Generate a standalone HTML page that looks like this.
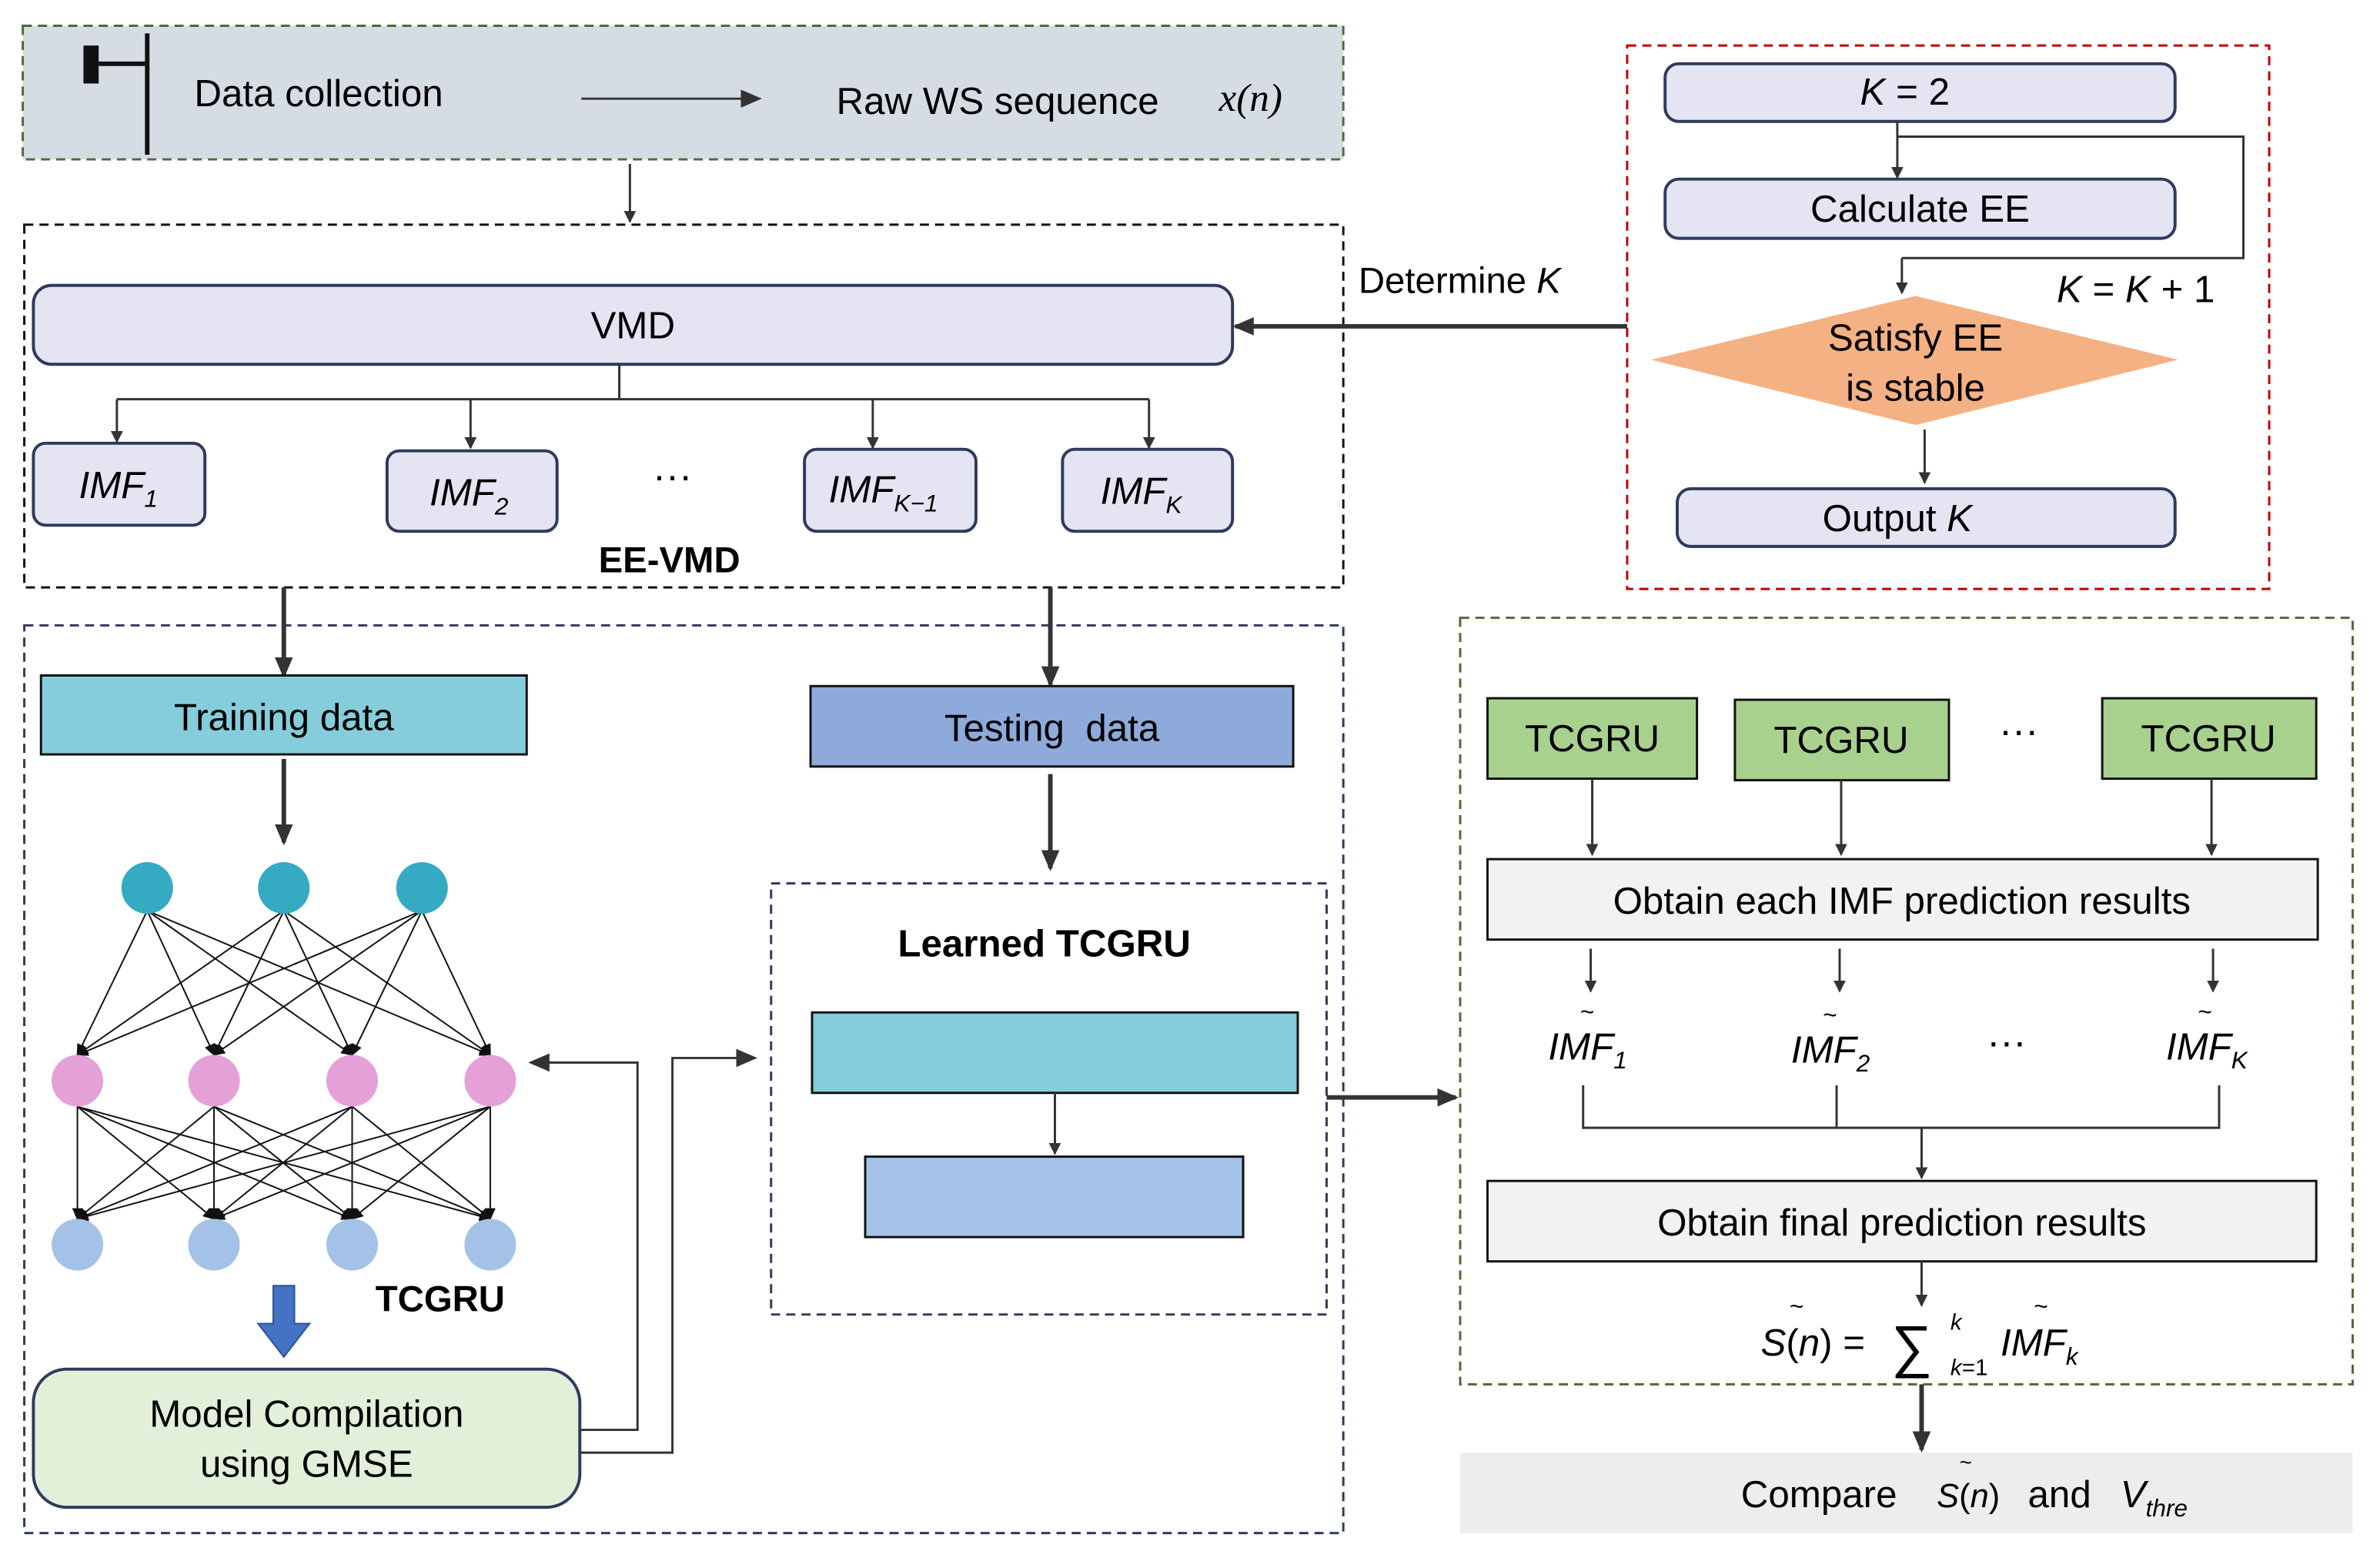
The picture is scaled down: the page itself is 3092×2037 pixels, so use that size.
<!DOCTYPE html>
<html><head><meta charset="utf-8"><style>
html,body{margin:0;padding:0;background:#fff;}
svg{display:block;}
text{font-family:"Liberation Sans",sans-serif;fill:#000;}
.it{font-style:italic;}
.sf{font-family:"Liberation Serif",serif;font-style:italic;}
</style></head><body>
<svg width="3092" height="2037" viewBox="0 0 1568 1033" preserveAspectRatio="none" xmlns="http://www.w3.org/2000/svg">
<defs>
<marker id="a" markerWidth="8" markerHeight="8" refX="7" refY="4" orient="auto" markerUnits="userSpaceOnUse" viewBox="0 0 8 8"><path d="M0,0 L8,4 L0,8 z" fill="#333"/></marker>
<marker id="b" markerWidth="14" markerHeight="12" refX="12" refY="6" orient="auto" markerUnits="userSpaceOnUse" viewBox="0 0 14 12"><path d="M0,0 L14,6 L0,12 z" fill="#333"/></marker>
<marker id="s" markerWidth="8" markerHeight="7" refX="7" refY="3.5" orient="auto" markerUnits="userSpaceOnUse" viewBox="0 0 8 7"><path d="M0,0 L8,3.5 L0,7 z" fill="#111"/></marker>
</defs>
<rect width="1568" height="1033" fill="#fff"/>

<rect x="15" y="17" width="870" height="88" fill="#d6dce4" stroke="#4e6b35" stroke-width="1.5" stroke-dasharray="6,4"/>
<line x1="97" y1="22" x2="97" y2="102" stroke="#111" stroke-width="3"/>
<rect x="55" y="30" width="10" height="25" fill="#111"/>
<line x1="65" y1="42" x2="97" y2="42" stroke="#111" stroke-width="3"/>
<text x="128" y="70" font-size="25">Data collection</text>
<line x1="383" y1="65" x2="500" y2="65" stroke="#333" stroke-width="1.5" marker-end="url(#b)"/>
<text x="551" y="75" font-size="25">Raw WS sequence</text>
<text x="803" y="73" font-size="26" class="sf">x(n)</text>
<line x1="415" y1="108" x2="415" y2="146" stroke="#333" stroke-width="1.5" marker-end="url(#a)"/>

<rect x="16" y="148" width="869" height="239" fill="none" stroke="#111" stroke-width="1.5" stroke-dasharray="6,4"/>
<rect x="22" y="188" width="790" height="52" rx="12" fill="#e5e4f2" stroke="#2f3b5c" stroke-width="2"/>
<text x="417" y="223" font-size="25" text-anchor="middle">VMD</text>
<path d="M408,240 V263 M77,263 H757" stroke="#333" stroke-width="1.5" fill="none"/>
<line x1="77" y1="263" x2="77" y2="291" stroke="#333" stroke-width="1.5" marker-end="url(#a)"/>
<line x1="310" y1="263" x2="310" y2="295" stroke="#333" stroke-width="1.5" marker-end="url(#a)"/>
<line x1="575" y1="263" x2="575" y2="295" stroke="#333" stroke-width="1.5" marker-end="url(#a)"/>
<line x1="757" y1="263" x2="757" y2="295" stroke="#333" stroke-width="1.5" marker-end="url(#a)"/>
<g fill="#e5e4f2" stroke="#2f3b5c" stroke-width="2">
<rect x="22" y="292" width="113" height="54" rx="8"/>
<rect x="255" y="297" width="112" height="53" rx="8"/>
<rect x="530" y="296" width="113" height="54" rx="8"/>
<rect x="700" y="296" width="112" height="54" rx="8"/>
</g>
<text x="52" y="328" font-size="25" class="it">IMF<tspan font-size="16" dy="6">1</tspan></text>
<text x="283" y="333" font-size="25" class="it">IMF<tspan font-size="16" dy="6">2</tspan></text>
<text x="546" y="331" font-size="25" class="it">IMF<tspan font-size="16" dy="6">K−1</tspan></text>
<text x="725" y="332" font-size="25" class="it">IMF<tspan font-size="16" dy="6">K</tspan></text>
<text x="443" y="322" font-size="26" text-anchor="middle">···</text>
<text x="441" y="377" font-size="24" font-weight="bold" text-anchor="middle">EE-VMD</text>

<rect x="1072" y="30" width="423" height="358" fill="none" stroke="#c00000" stroke-width="1.5" stroke-dasharray="6,4"/>
<rect x="1097" y="42" width="336" height="38" rx="9" fill="#e5e4f2" stroke="#2f3b5c" stroke-width="2"/>
<text x="1255" y="69" font-size="25" text-anchor="middle" class="it">K <tspan font-style="normal">= 2</tspan></text>
<line x1="1250" y1="80" x2="1250" y2="117" stroke="#333" stroke-width="1.5" marker-end="url(#a)"/>
<path d="M1250,90 H1478 V170 H1253" stroke="#333" stroke-width="1.5" fill="none"/>
<line x1="1253" y1="170" x2="1253" y2="193" stroke="#333" stroke-width="1.5" marker-end="url(#a)"/>
<rect x="1097" y="118" width="336" height="39" rx="9" fill="#e5e4f2" stroke="#2f3b5c" stroke-width="2"/>
<text x="1265" y="146" font-size="25" text-anchor="middle">Calculate EE</text>
<text x="1355" y="199" font-size="25" class="it">K <tspan font-style="normal">=</tspan> K <tspan font-style="normal">+ 1</tspan></text>
<polygon points="1088,237 1262,195 1435,237 1262,280" fill="#f4b183"/>
<text x="1262" y="231" font-size="25" text-anchor="middle">Satisfy EE</text>
<text x="1262" y="264" font-size="25" text-anchor="middle">is stable</text>
<line x1="1268" y1="283" x2="1268" y2="318" stroke="#333" stroke-width="1.5" marker-end="url(#a)"/>
<rect x="1105" y="322" width="328" height="38" rx="9" fill="#e5e4f2" stroke="#2f3b5c" stroke-width="2"/>
<text x="1250" y="350" font-size="25" text-anchor="middle">Output <tspan class="it">K</tspan></text>
<text x="895" y="193" font-size="24">Determine <tspan class="it">K</tspan></text>
<line x1="1072" y1="215" x2="814" y2="215" stroke="#333" stroke-width="3" marker-end="url(#b)"/>

<rect x="16" y="412" width="869" height="598" fill="none" stroke="#2f3b5c" stroke-width="1.5" stroke-dasharray="6,4"/>
<line x1="187" y1="387" x2="187" y2="445" stroke="#333" stroke-width="3" marker-end="url(#b)"/>
<line x1="692" y1="387" x2="692" y2="451" stroke="#333" stroke-width="3" marker-end="url(#b)"/>
<rect x="27" y="445" width="320" height="52" fill="#86cddc" stroke="#111" stroke-width="1.5"/>
<text x="187" y="481" font-size="25" text-anchor="middle">Training data</text>
<rect x="534" y="452" width="318" height="53" fill="#8eaadb" stroke="#111" stroke-width="1.5"/>
<text x="693" y="488" font-size="25" text-anchor="middle" xml:space="preserve">Testing  data</text>
<line x1="187" y1="500" x2="187" y2="555" stroke="#333" stroke-width="3" marker-end="url(#b)"/>
<line x1="692" y1="510" x2="692" y2="572" stroke="#333" stroke-width="3" marker-end="url(#b)"/>

<g stroke="#111" stroke-width="1" marker-end="url(#s)">
<line x1="97" y1="600" x2="51" y2="695"/><line x1="97" y1="600" x2="141" y2="695"/><line x1="97" y1="600" x2="232" y2="695"/><line x1="97" y1="600" x2="323" y2="695"/>
<line x1="187" y1="600" x2="51" y2="695"/><line x1="187" y1="600" x2="141" y2="695"/><line x1="187" y1="600" x2="232" y2="695"/><line x1="187" y1="600" x2="323" y2="695"/>
<line x1="278" y1="600" x2="51" y2="695"/><line x1="278" y1="600" x2="141" y2="695"/><line x1="278" y1="600" x2="232" y2="695"/><line x1="278" y1="600" x2="323" y2="695"/>
<line x1="51" y1="729" x2="51" y2="803"/><line x1="51" y1="729" x2="141" y2="803"/><line x1="51" y1="729" x2="232" y2="803"/><line x1="51" y1="729" x2="323" y2="803"/>
<line x1="141" y1="729" x2="51" y2="803"/><line x1="141" y1="729" x2="141" y2="803"/><line x1="141" y1="729" x2="232" y2="803"/><line x1="141" y1="729" x2="323" y2="803"/>
<line x1="232" y1="729" x2="51" y2="803"/><line x1="232" y1="729" x2="141" y2="803"/><line x1="232" y1="729" x2="232" y2="803"/><line x1="232" y1="729" x2="323" y2="803"/>
<line x1="323" y1="729" x2="51" y2="803"/><line x1="323" y1="729" x2="141" y2="803"/><line x1="323" y1="729" x2="232" y2="803"/><line x1="323" y1="729" x2="323" y2="803"/>
</g>
<g fill="#35aac3"><circle cx="97" cy="585" r="17"/><circle cx="187" cy="585" r="17"/><circle cx="278" cy="585" r="17"/></g>
<g fill="#e5a0d8"><circle cx="51" cy="712" r="17"/><circle cx="141" cy="712" r="17"/><circle cx="232" cy="712" r="17"/><circle cx="323" cy="712" r="17"/></g>
<g fill="#a4c2e8"><circle cx="51" cy="820" r="17"/><circle cx="141" cy="820" r="17"/><circle cx="232" cy="820" r="17"/><circle cx="323" cy="820" r="17"/></g>
<polygon points="180,847 194,847 194,872 204,872 187,894 170,872 180,872" fill="#4472c4" stroke="#2f528f" stroke-width="1"/>
<text x="290" y="864" font-size="24" font-weight="bold" text-anchor="middle">TCGRU</text>
<rect x="22" y="902" width="360" height="91" rx="22" fill="#e2f0d9" stroke="#2f3b5c" stroke-width="2"/>
<text x="202" y="940" font-size="25" text-anchor="middle">Model Compilation</text>
<text x="202" y="973" font-size="25" text-anchor="middle">using GMSE</text>
<path d="M382,942 H420 V700 H350" stroke="#333" stroke-width="1.5" fill="none" marker-end="url(#b)"/>
<path d="M382,957 H443 V697 H497" stroke="#333" stroke-width="1.5" fill="none" marker-end="url(#b)"/>

<rect x="508" y="582" width="366" height="284" fill="none" stroke="#2f3b5c" stroke-width="1.5" stroke-dasharray="6,4"/>
<text x="688" y="630" font-size="25" font-weight="bold" text-anchor="middle">Learned TCGRU</text>
<rect x="535" y="667" width="320" height="53" fill="#86cddc" stroke="#111" stroke-width="1.5"/>
<line x1="695" y1="720" x2="695" y2="760" stroke="#333" stroke-width="1.5" marker-end="url(#a)"/>
<rect x="570" y="762" width="249" height="53" fill="#a4c2e8" stroke="#111" stroke-width="1.5"/>
<line x1="874" y1="723" x2="959" y2="723" stroke="#333" stroke-width="3" marker-end="url(#b)"/>

<rect x="962" y="407" width="588" height="505" fill="none" stroke="#4e6b35" stroke-width="1.5" stroke-dasharray="6,4"/>
<g fill="#a9d18e" stroke="#111" stroke-width="1.5">
<rect x="980" y="460" width="138" height="53"/><rect x="1143" y="461" width="141" height="53"/><rect x="1385" y="460" width="141" height="53"/>
</g>
<text x="1049" y="495" font-size="25" text-anchor="middle">TCGRU</text>
<text x="1213" y="496" font-size="25" text-anchor="middle">TCGRU</text>
<text x="1455" y="495" font-size="25" text-anchor="middle">TCGRU</text>
<text x="1330" y="490" font-size="26" text-anchor="middle">···</text>
<line x1="1049" y1="513" x2="1049" y2="563" stroke="#333" stroke-width="1.5" marker-end="url(#a)"/>
<line x1="1213" y1="514" x2="1213" y2="563" stroke="#333" stroke-width="1.5" marker-end="url(#a)"/>
<line x1="1457" y1="513" x2="1457" y2="563" stroke="#333" stroke-width="1.5" marker-end="url(#a)"/>
<rect x="980" y="566" width="547" height="53" fill="#f2f2f2" stroke="#111" stroke-width="1.5"/>
<text x="1253" y="602" font-size="25" text-anchor="middle">Obtain each IMF prediction results</text>
<line x1="1048" y1="625" x2="1048" y2="653" stroke="#333" stroke-width="1.5" marker-end="url(#a)"/>
<line x1="1212" y1="625" x2="1212" y2="653" stroke="#333" stroke-width="1.5" marker-end="url(#a)"/>
<line x1="1458" y1="625" x2="1458" y2="653" stroke="#333" stroke-width="1.5" marker-end="url(#a)"/>
<text x="1020" y="698" font-size="25" class="it">IMF<tspan font-size="16" dy="6">1</tspan></text>
<text x="1180" y="700" font-size="25" class="it">IMF<tspan font-size="16" dy="6">2</tspan></text>
<text x="1427" y="698" font-size="25" class="it">IMF<tspan font-size="16" dy="6">K</tspan></text>
<text x="1041" y="672" font-size="16">~</text><text x="1201" y="674" font-size="16">~</text><text x="1448" y="672" font-size="16">~</text>
<text x="1322" y="695" font-size="26" text-anchor="middle">···</text>
<path d="M1043,715 V743 H1462 V715 M1210,715 V743" stroke="#333" stroke-width="1.5" fill="none"/>
<line x1="1266" y1="743" x2="1266" y2="776" stroke="#333" stroke-width="1.5" marker-end="url(#a)"/>
<rect x="980" y="778" width="546" height="53" fill="#f2f2f2" stroke="#111" stroke-width="1.5"/>
<text x="1253" y="814" font-size="25" text-anchor="middle">Obtain final prediction results</text>
<line x1="1266" y1="831" x2="1266" y2="860" stroke="#333" stroke-width="1.5" marker-end="url(#a)"/>
<text x="1160" y="893" font-size="25" class="it">S<tspan font-style="normal">(</tspan>n<tspan font-style="normal">) =</tspan></text>
<text x="1246" y="900" font-size="38">∑</text>
<text x="1179" y="866" font-size="16">~</text>
<text x="1285" y="876" font-size="15" class="it">k</text>
<text x="1285" y="906" font-size="15" class="it">k<tspan font-style="normal">=1</tspan></text>
<text x="1318" y="893" font-size="25" class="it">IMF<tspan font-size="16" dy="6">k</tspan></text>
<text x="1340" y="866" font-size="16">~</text>
<line x1="1266" y1="912" x2="1266" y2="955" stroke="#333" stroke-width="3" marker-end="url(#b)"/>
<rect x="962" y="957" width="588" height="53" fill="#ededed"/>
<text x="1147" y="993" font-size="25">Compare</text>
<text x="1276" y="993" font-size="22" class="it">S<tspan font-style="normal">(</tspan>n<tspan font-style="normal">)</tspan></text>
<text x="1291" y="968" font-size="14">~</text>
<text x="1336" y="993" font-size="25">and</text>
<text x="1397" y="993" font-size="25" class="it">V<tspan font-size="16" dy="6">thre</tspan></text>
</svg>
</body></html>
